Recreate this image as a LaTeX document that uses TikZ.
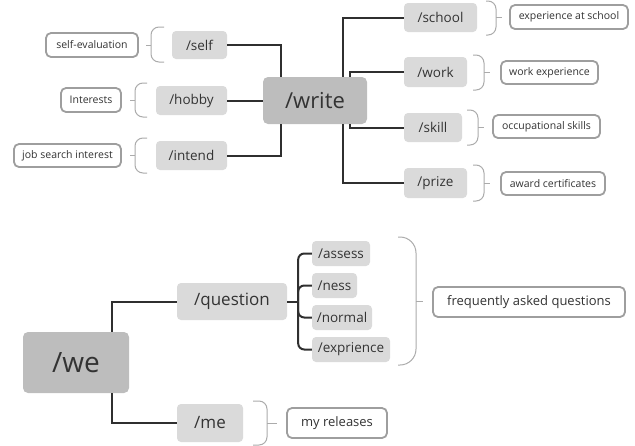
\documentclass[tikz,border=0pt]{standalone}
\usepackage{fontspec}
\setmainfont{Open Sans}
\definecolor{rootgray}{HTML}{BDBDBD}
\definecolor{branchgray}{HTML}{DADADA}
\definecolor{notegray}{HTML}{9E9E9E}
\definecolor{bracegray}{HTML}{ABABAB}
\definecolor{linkgray}{HTML}{2F2F2F}
\definecolor{textgray}{HTML}{333333}
\tikzset{
  root/.style={fill=rootgray, rounded corners=5pt, inner sep=0pt, text=textgray},
  branch/.style={fill=branchgray, rounded corners=4pt, inner sep=0pt, text=textgray, font=\fontsize{13.5}{16}\selectfont},
  note/.style={draw=notegray, line width=1.8pt, fill=white, rounded corners=5pt, inner sep=0pt, text=textgray, font=\fontsize{10.5}{12}\selectfont},
  link/.style={draw=linkgray, line width=2pt},
  brace/.style={draw=bracegray, line width=1pt, rounded corners=8pt}
}
\begin{document}
\begin{tikzpicture}[x=1pt, y=-1pt]
\useasboundingbox (0,0) rectangle (635,445);
\node[root, minimum width=104pt, minimum height=47pt, font=\fontsize{22}{26}\selectfont] (write) at (315,100.5) {/write};
\node[branch, minimum width=55pt, minimum height=28pt] (self) at (199.5,45) {/self};
\node[branch, minimum width=71pt, minimum height=29pt] (hobby) at (191.5,100.5) {/hobby};
\node[branch, minimum width=71pt, minimum height=29pt] (intend) at (191.5,155.5) {/intend};
\node[branch, minimum width=73pt, minimum height=29pt] (school) at (440.5,17.5) {/school};
\node[branch, minimum width=63pt, minimum height=30pt] (work) at (435.5,72) {/work};
\node[branch, minimum width=58pt, minimum height=29pt] (skill) at (433,127.5) {/skill};
\node[branch, minimum width=63pt, minimum height=30pt] (prize) at (435.5,183) {/prize};
\node[note, minimum width=92pt, minimum height=24pt] (selfnote) at (92,45) {self-evaluation};
\node[note, minimum width=60pt, minimum height=24pt] (hobbynote) at (91,100) {Interests};
\node[note, minimum width=107pt, minimum height=23pt] (intendnote) at (67.5,155.5) {job search interest};
\node[note, minimum width=118pt, minimum height=24pt] (schoolnote) at (569,17) {experience at school};
\node[note, minimum width=97pt, minimum height=23pt] (worknote) at (549.5,72.5) {work experience};
\node[note, minimum width=107pt, minimum height=23pt] (skillnote) at (546.5,126.5) {occupational skills};
\node[note, minimum width=104pt, minimum height=23pt] (prizenote) at (553,183.5) {award certificates};
\draw[link] (self.east) -| ([xshift=-34pt]write.north);
\draw[link] (hobby.east) -- (write.west);
\draw[link] (intend.east) -| ([xshift=-34pt]write.south);
\draw[link] ([xshift=28pt]write.north) |- (school.west);
\draw[link] ([xshift=35pt]write.north) |- (work.west);
\draw[link] ([xshift=35pt]write.south) |- (skill.west);
\draw[link] ([xshift=28pt]write.south) |- (prize.west);
\draw[brace] (164,27) -| (151,62) -- (164,62);
\draw[brace] (151,45) -- (146,45);
\draw[brace] (147,83) -| (135,117) -- (147,117);
\draw[brace] (135,100.5) -- (130,100.5);
\draw[brace] (147,138) -| (135,173) -- (147,173);
\draw[brace] (135,155.5) -- (130,155.5);
\draw[brace] (486,1) -| (496,35) -- (486,35);
\draw[brace] (496,17.5) -- (502,17.5);
\draw[brace] (473,55) -| (484,90) -- (473,90);
\draw[brace] (484,72) -- (490,72);
\draw[brace] (467,110) -| (478,145) -- (467,145);
\draw[brace] (478,127.5) -- (484,127.5);
\draw[brace] (473,165) -| (484,201) -- (473,201);
\draw[brace] (484,183) -- (490,183);
\node[root, minimum width=106pt, minimum height=61pt, font=\fontsize{28}{32}\selectfont] (we) at (76,362.5) {/we};
\node[branch, minimum width=110pt, minimum height=37pt, font=\fontsize{17}{20}\selectfont] (question) at (232,301.5) {/question};
\node[branch, minimum width=66pt, minimum height=38pt, font=\fontsize{17}{20}\selectfont] (me) at (210,423) {/me};
\node[branch, minimum width=58pt, minimum height=25pt] (assess) at (341,253.5) {/assess};
\node[branch, minimum width=45pt, minimum height=25pt] (ness) at (334.5,285.5) {/ness};
\node[branch, minimum width=60pt, minimum height=25pt] (normal) at (342,317.5) {/normal};
\node[branch, minimum width=78pt, minimum height=25pt] (exprience) at (351,349.5) {/exprience};
\node[note, minimum width=192pt, minimum height=30pt, font=\fontsize{13}{15}\selectfont] (questionnote) at (529,302) {frequently asked questions};
\node[note, minimum width=100pt, minimum height=30pt, font=\fontsize{13}{15}\selectfont] (menote) at (337,423) {my releases};
\draw[link] ([xshift=36pt]we.north) |- (question.west);
\draw[link] ([xshift=36pt]we.south) |- (me.west);
\draw[link] (question.east) -- ++(11pt,0) coordinate (fork);
\draw[link, rounded corners=6pt] (fork) |- (assess.west);
\draw[link, rounded corners=6pt] (fork) |- (ness.west);
\draw[link, rounded corners=6pt] (fork) |- (normal.west);
\draw[link, rounded corners=6pt] (fork) |- (exprience.west);
\draw[brace, rounded corners=16pt] (398,237) -| (416,365) -- (398,365);
\draw[brace] (416,301.5) -- (423,301.5);
\draw[brace] (253,401) -| (267,445) -- (253,445);
\draw[brace] (267,423) -- (277,423);
\end{tikzpicture}
\end{document}
